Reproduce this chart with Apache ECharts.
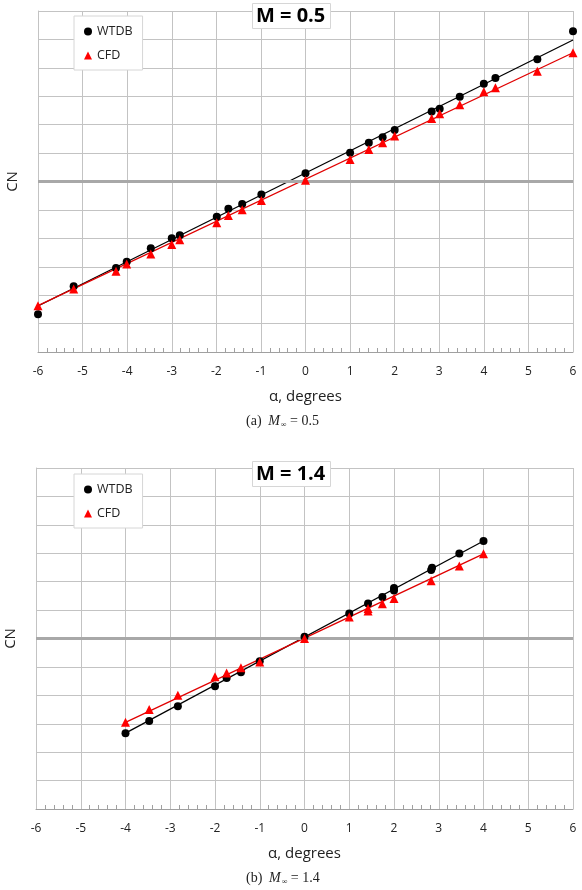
<!DOCTYPE html>
<html>
<head>
<meta charset="utf-8">
<script src="https://cdn.jsdelivr.net/npm/echarts@6/dist/echarts.min.js"></script>
<style>
  html, body { margin: 0; padding: 0; background: #fff; }
  #chart { width: 582px; height: 890px; }
</style>
</head>
<body>
<div id="chart"></div>
<script>
// x tick labels (alpha, degrees)
var xTicks = [-6, -5, -4, -3, -2, -1, 0, 1, 2, 3, 4, 5, 6];

// (a) M = 0.5
var alphaA = [-6.0, -5.2, -4.25, -4.01, -3.47, -3.0, -2.82, -1.99, -1.73, -1.42, -0.99, 0, 1.0, 1.42, 1.73, 2.0, 2.83, 3.01, 3.46, 4.0, 4.26, 5.2, 6.0];
var wtdbA = [-4.67, -3.69, -3.04, -2.82, -2.35, -2.0, -1.89, -1.24, -0.96, -0.79, -0.46, 0.29, 1.01, 1.36, 1.56, 1.81, 2.46, 2.56, 2.98, 3.44, 3.64, 4.30, 5.29];
var cfdA = [-4.37, -3.78, -3.16, -2.90, -2.55, -2.22, -2.05, -1.45, -1.20, -0.99, -0.67, 0.04, 0.77, 1.13, 1.36, 1.60, 2.22, 2.38, 2.70, 3.16, 3.30, 3.88, 4.53];
// trend lines (end points)
var fitAlphaA = [-6, 6];
var wtdbFitA = [-4.38, 4.98];
var cfdFitA = [-4.37, 4.53];

// (b) M = 1.4
var alphaWB = [-4.0, -3.47, -2.83, -2.0, -1.74, -1.42, -1.0, 0, 1.0, 1.42, 1.74, 2.0, 2.0, 2.83, 2.85, 3.46, 4.0];
var wtdbB = [-3.33, -2.90, -2.38, -1.68, -1.39, -1.19, -0.80, 0.06, 0.88, 1.23, 1.46, 1.69, 1.78, 2.41, 2.49, 2.99, 3.43];
var alphaCB = [-4.0, -3.47, -2.83, -2.0, -1.74, -1.42, -1.0, 0, 1.0, 1.42, 1.42, 1.74, 2.0, 2.83, 3.46, 4.0];
var cfdB = [-2.95, -2.50, -2.0, -1.35, -1.21, -1.03, -0.83, 0.0, 0.76, 0.97, 1.06, 1.22, 1.41, 2.03, 2.55, 2.98];
var fitAlphaB = [-4, 4];
var wtdbFitB = [-3.33, 3.43];
var cfdFitB = [-2.95, 2.98];

function pairs(xs, ys) {
  var out = [];
  for (var i = 0; i < xs.length; i++) out.push([xs[i], ys[i]]);
  return out;
}

var font = 'Open Sans';
var gridColor = '#c3c3c3';

function xAxisFor(idx) {
  return {
    gridIndex: idx, type: 'value', min: xTicks[0], max: xTicks[xTicks.length - 1], interval: 1,
    name: 'α, degrees', nameLocation: 'middle', nameGap: 37,
    nameTextStyle: { fontFamily: font, fontSize: 15, color: '#222' },
    axisLine: { onZero: false, lineStyle: { color: '#a0a0a0' } },
    axisTick: { show: false, inside: true },
    minorTick: { show: true, splitNumber: 5, length: 4, lineStyle: { color: '#a0a0a0' } },
    axisLabel: { fontFamily: font, fontSize: 12, color: '#222', margin: 14 },
    splitLine: { show: true, lineStyle: { color: gridColor } }
  };
}
function yAxisFor(idx) {
  return {
    gridIndex: idx, type: 'value', min: -6, max: 6, interval: 1,
    name: 'CN', nameLocation: 'middle', nameGap: 18,
    nameTextStyle: { fontFamily: font, fontSize: 15, color: '#222' },
    axisLine: { show: true, onZero: false, lineStyle: { color: gridColor } },
    axisTick: { show: false },
    axisLabel: { show: false },
    splitLine: { show: true, lineStyle: { color: gridColor } }
  };
}
function zeroLine() {
  return {
    silent: true, symbol: 'none', label: { show: false },
    lineStyle: { color: '#a8a8a8', width: 3, type: 'solid' },
    data: [{ yAxis: 0 }]
  };
}
function scatter(name, idx, data, symbol, color, size) {
  return {
    name: name, type: 'scatter', xAxisIndex: idx, yAxisIndex: idx,
    symbol: symbol, symbolSize: size, itemStyle: { color: color, opacity: 1 }, z: 5, data: data
  };
}
function fit(idx, data, color, mark) {
  var s = {
    type: 'line', xAxisIndex: idx, yAxisIndex: idx, showSymbol: false, silent: true,
    lineStyle: { color: color, width: 1.3 }, z: 4, data: data
  };
  if (mark) s.markLine = zeroLine();
  return s;
}
function legendFor(top) {
  return {
    data: [{ name: 'WTDB', icon: 'circle' }, { name: 'CFD', icon: 'triangle' }],
    orient: 'vertical', left: 74, top: top, itemWidth: 8, itemHeight: 8, itemGap: 11,
    padding: [9, 10, 8, 10], backgroundColor: '#fff', borderColor: '#d6d6d6', borderWidth: 1,
    textStyle: { fontFamily: font, fontSize: 12.5, color: '#222' }
  };
}
function titleFor(text, top) {
  return {
    text: text, left: 252, top: top, padding: [3, 5, 3, 4],
    backgroundColor: '#fff', borderColor: '#d6d6d6', borderWidth: 1,
    textStyle: { fontFamily: font, fontSize: 20, fontWeight: 'bold', color: '#000' }
  };
}
function caption(tag, mach, y) {
  return {
    type: 'text', left: 246, top: y,
    style: {
      text: '{a|' + tag + '}  {m|M}{s|∞}{a| = ' + mach + '}',
      rich: {
        a: { fontFamily: 'Liberation Serif', fontSize: 14, fill: '#222' },
        m: { fontFamily: 'Liberation Serif', fontStyle: 'italic', fontSize: 14, fill: '#222' },
        s: { fontFamily: 'Liberation Serif', fontSize: 8, fill: '#222', padding: [8, 0, 0, 1] }
      }
    }
  };
}

var chart = echarts.init(document.getElementById('chart'));
chart.setOption({
  animation: false,
  backgroundColor: '#fff',
  title: [titleFor('M = 0.5', 3), titleFor('M = 1.4', 461)],
  legend: [legendFor(16), legendFor(474)],
  grid: [
    { left: 38, top: 11, width: 535, height: 341, outerBoundsMode: 'none', containLabel: false },
    { left: 36, top: 468, width: 537, height: 341, outerBoundsMode: 'none', containLabel: false }
  ],
  xAxis: [xAxisFor(0), xAxisFor(1)],
  yAxis: [yAxisFor(0), yAxisFor(1)],
  series: [
    fit(0, pairs(fitAlphaA, wtdbFitA), '#000', true),
    fit(0, pairs(fitAlphaA, cfdFitA), '#e00000', false),
    scatter('WTDB', 0, pairs(alphaA, wtdbA), 'circle', '#000', 8),
    scatter('CFD', 0, pairs(alphaA, cfdA), 'triangle', '#ff0000', 9),
    fit(1, pairs(fitAlphaB, wtdbFitB), '#000', true),
    fit(1, pairs(fitAlphaB, cfdFitB), '#e00000', false),
    scatter('WTDB', 1, pairs(alphaWB, wtdbB), 'circle', '#000', 8),
    scatter('CFD', 1, pairs(alphaCB, cfdB), 'triangle', '#ff0000', 9)
  ],
  graphic: [caption('(a)', '0.5', 414), caption('(b)', '1.4', 871)]
});
window.addEventListener('resize', function () { chart.resize(); });
</script>
</body>
</html>
